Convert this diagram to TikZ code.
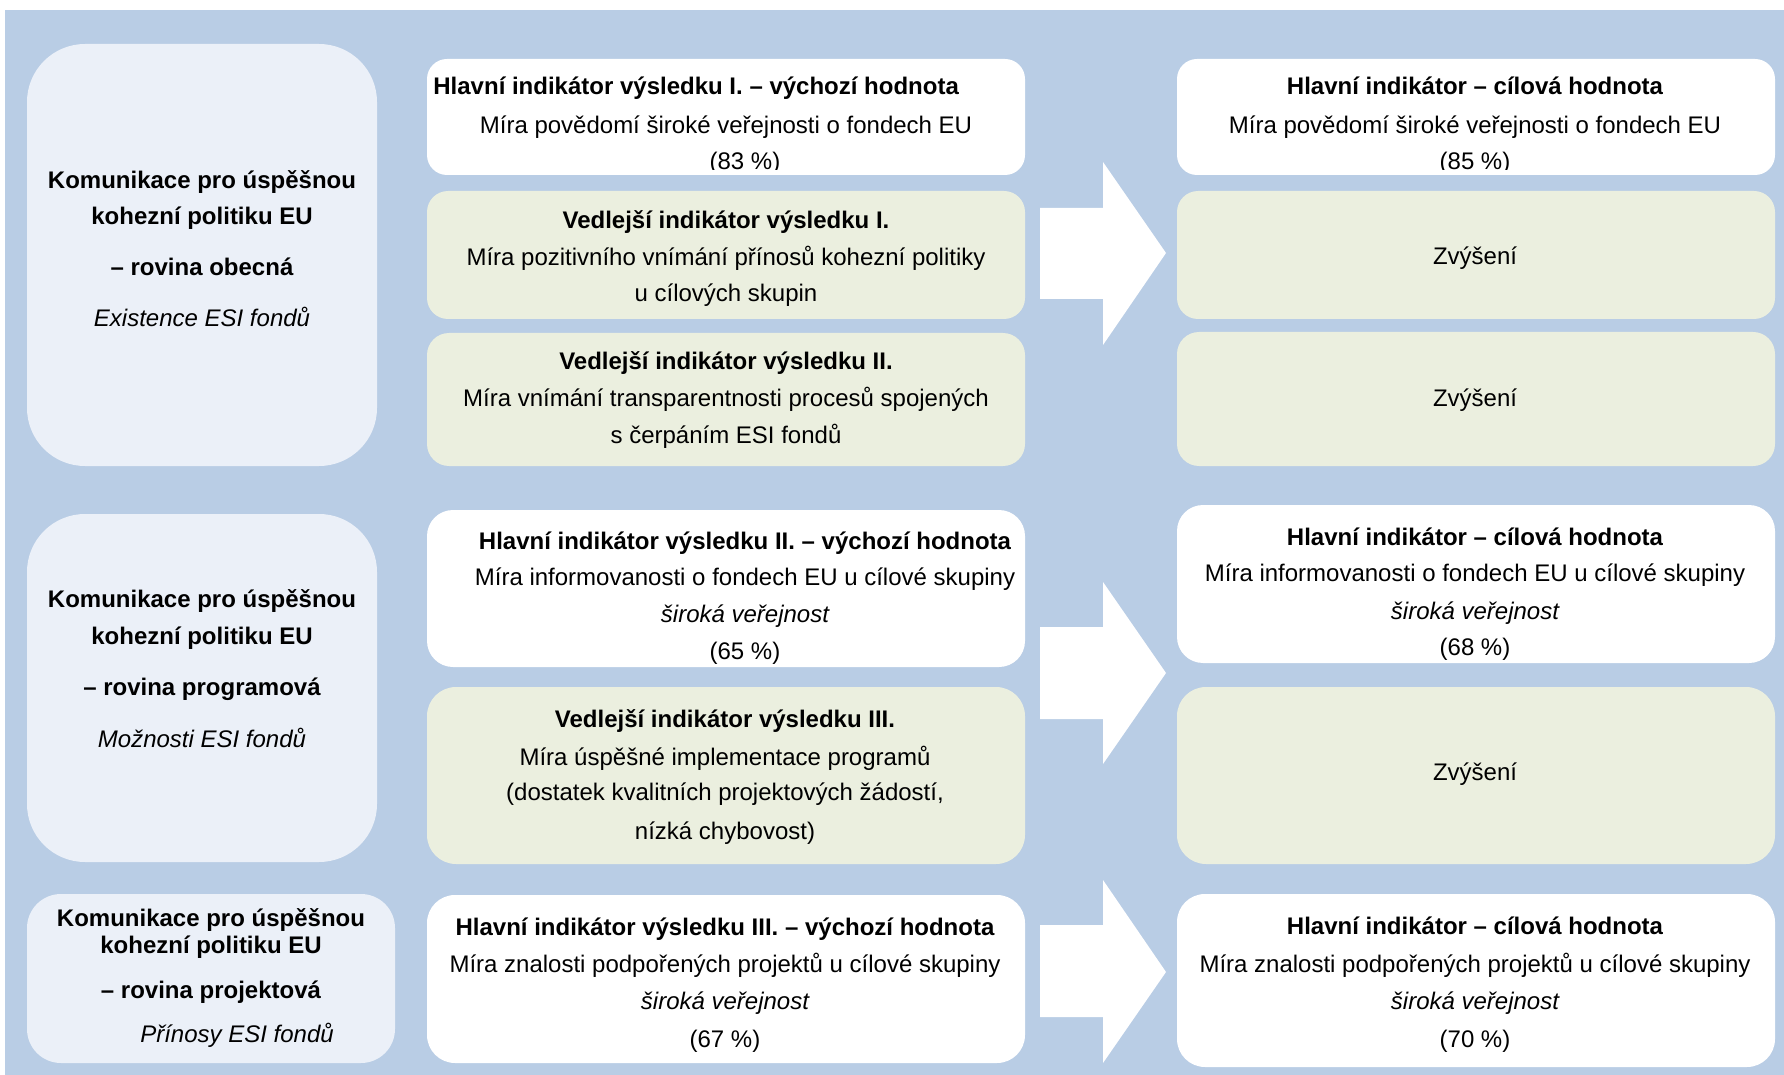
\documentclass[tikz,border=0pt]{standalone}
\usepackage{fontspec}
\setmainfont{Liberation Sans}
\usetikzlibrary{fit}
\definecolor{bgblue}{HTML}{B9CDE5}
\definecolor{leftfill}{HTML}{EBF0F8}
\definecolor{greenfill}{HTML}{EBEFDF}
\begin{document}
\begin{tikzpicture}[x=0.5pt,y=-0.5pt,
  box/.style={inner sep=0pt, outer sep=0pt, draw=none},
  leftbox/.style={box, fill=leftfill},
  whitebox/.style={box, fill=white},
  greenbox/.style={box, fill=greenfill},
  ln/.style={anchor=base, inner sep=0pt, font=\fontsize{12pt}{14pt}\selectfont},
  lb/.style={ln, font=\fontsize{12pt}{14pt}\selectfont\bfseries},
  li/.style={ln, font=\fontsize{12pt}{14pt}\selectfont\itshape},
  blockarrow/.style={fill=white, draw=none}]
\useasboundingbox (0,0) rectangle (1784,1075);
\fill[bgblue] (5,10) rectangle (1784,1075);

% left column
\node[leftbox, rounded corners=29pt, fit={(27,44)(377,466)}] (L1) {};
\node[leftbox, rounded corners=29pt, fit={(27,514)(377,862)}] (L2) {};
\node[leftbox, rounded corners=17pt, fit={(27,894)(395,1063)}] (L3) {};

% middle column
\node[whitebox, rounded corners=10pt, fit={(427,59)(1025,175)}] (A) {};
\node[greenbox, rounded corners=10.5pt, fit={(427,191)(1025,319)}] (B) {};
\node[greenbox, rounded corners=11pt, fit={(427,333)(1025,466)}] (C) {};
\node[whitebox, rounded corners=13pt, fit={(427,510)(1025,667)}] (D) {};
\node[greenbox, rounded corners=14.5pt, fit={(427,687)(1025,864)}] (E) {};
\node[whitebox, rounded corners=14pt, fit={(427,895)(1025,1063)}] (F) {};

% right column
\node[whitebox, rounded corners=10pt, fit={(1177,59)(1775,175)}] (G) {};
\node[greenbox, rounded corners=10.5pt, fit={(1177,191)(1775,319)}] (H) {};
\node[greenbox, rounded corners=11pt, fit={(1177,332)(1775,466)}] (I) {};
\node[whitebox, rounded corners=13pt, fit={(1177,505)(1775,663)}] (J) {};
\node[greenbox, rounded corners=14.5pt, fit={(1177,687)(1775,864)}] (K) {};
\node[whitebox, rounded corners=14pt, fit={(1177,894)(1775,1067)}] (L) {};

% block arrows
\fill[blockarrow] (1040,208) -- (1103,208) -- (1103,162) -- (1166,253) -- (1103,345) -- (1103,299) -- (1040,299) -- cycle;
\fill[blockarrow] (1040,627) -- (1103,627) -- (1103,582) -- (1166,673) -- (1103,764) -- (1103,719) -- (1040,719) -- cycle;
\fill[blockarrow] (1040,925) -- (1103,925) -- (1103,880) -- (1166,972) -- (1103,1063) -- (1103,1017) -- (1040,1017) -- cycle;

\begin{scope}[yshift=-1pt]
% left texts
\node[lb] (L1a) at (202,187) {Komunikace pro úspěšnou};
\node[lb] (L1b) at (202,223) {kohezní politiku EU};
\node[lb] (L1c) at (202,274) {– rovina obecná};
\node[li] (L1d) at (202,325) {Existence ESI fondů};

\node[lb] (L2a) at (202,605) {Komunikace pro úspěšnou};
\node[lb] (L2b) at (202,642) {kohezní politiku EU};
\node[lb] (L2c) at (202,693) {– rovina programová};
\node[li] (L2d) at (202,745) {Možnosti ESI fondů};

\node[lb] (L3a) at (211,924) {Komunikace pro úspěšnou};
\node[lb] (L3b) at (211,951) {kohezní politiku EU};
\node[lb] (L3c) at (211,996) {– rovina projektová};
\node[li] (L3d) at (237,1040) {Přínosy ESI fondů};

% middle texts
\node[lb, anchor=base west] (Aa) at (433,93) {Hlavní indikátor výsledku I. – výchozí hodnota};
\node[ln] (Ab) at (726,132) {Míra povědomí široké veřejnosti o fondech EU};
\begin{scope}
\clip (427,59) rectangle (1025,168);
\node[ln] (Ac) at (745,168) {(83 \%)};
\end{scope}

\node[lb] (Ba) at (726,227) {Vedlejší indikátor výsledku I.};
\node[ln] (Bb) at (726,264) {Míra pozitivního vnímání přínosů kohezní politiky};
\node[ln] (Bc) at (726,300) {u cílových skupin};

\node[lb] (Ca) at (726,368) {Vedlejší indikátor výsledku II.};
\node[ln] (Cb) at (726,405) {Míra vnímání transparentnosti procesů spojených};
\node[ln] (Cc) at (726,442) {s čerpáním ESI fondů};

\node[lb] (Da) at (745,547) {Hlavní indikátor výsledku II. – výchozí hodnota};
\node[ln] (Db) at (745,583) {Míra informovanosti o fondech EU u cílové skupiny};
\node[li] (Dc) at (745,620) {široká veřejnost};
\node[ln] (Dd) at (745,657) {(65 \%)};

\node[lb] (Ea) at (725,725) {Vedlejší indikátor výsledku III.};
\node[ln] (Eb) at (725,763) {Míra úspěšné implementace programů};
\node[ln] (Ec) at (725,798) {(dostatek kvalitních projektových žádostí,};
\node[ln] (Ed) at (725,837) {nízká chybovost)};

\node[lb] (Fa) at (725,933) {Hlavní indikátor výsledku III. – výchozí hodnota};
\node[ln] (Fb) at (725,970) {Míra znalosti podpořených projektů u cílové skupiny};
\node[li] (Fc) at (725,1007) {široká veřejnost};
\node[ln] (Fd) at (725,1045) {(67 \%)};

% right texts
\node[lb] (Ga) at (1475,93) {Hlavní indikátor – cílová hodnota};
\node[ln] (Gb) at (1475,132) {Míra povědomí široké veřejnosti o fondech EU};
\begin{scope}
\clip (1177,59) rectangle (1775,168);
\node[ln] (Gc) at (1475,168) {(85 \%)};
\end{scope}

\node[ln] (Ha) at (1475,263) {Zvýšení};
\node[ln] (Ia) at (1475,405) {Zvýšení};

\node[lb] (Ja) at (1475,543) {Hlavní indikátor – cílová hodnota};
\node[ln] (Jb) at (1475,579) {Míra informovanosti o fondech EU u cílové skupiny};
\node[li] (Jc) at (1475,617) {široká veřejnost};
\node[ln] (Jd) at (1475,653) {(68 \%)};

\node[ln] (Ka) at (1475,778) {Zvýšení};

\node[lb] (La) at (1475,932) {Hlavní indikátor – cílová hodnota};
\node[ln] (Lb) at (1475,970) {Míra znalosti podpořených projektů u cílové skupiny};
\node[li] (Lc) at (1475,1007) {široká veřejnost};
\node[ln] (Ld) at (1475,1045) {(70 \%)};
\end{scope}
\end{tikzpicture}
\end{document}
